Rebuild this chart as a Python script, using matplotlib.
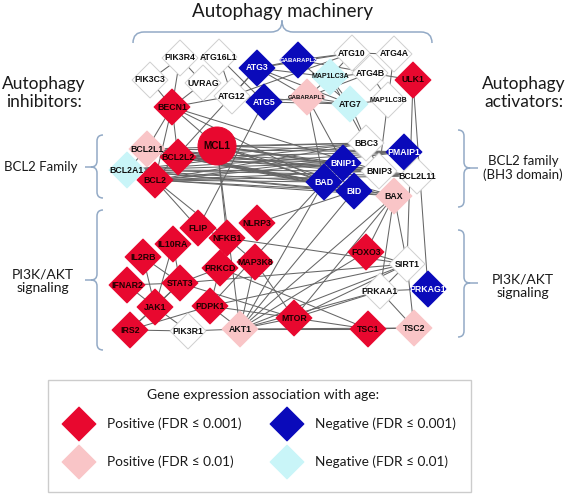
import matplotlib.pyplot as plt
from matplotlib.patches import Polygon, Circle, Rectangle, PathPatch
from matplotlib.collections import LineCollection
from matplotlib.font_manager import FontProperties
from matplotlib.textpath import TextPath
from matplotlib.path import Path
import numpy as np

W, H = 567, 494

# -------------------------------------------------
# Network data (layout in picture pixels)
# -------------------------------------------------
node_names = [
    "PIK3R4", "ATG16L1", "PIK3C3", "UVRAG", "ATG3", "GABARAPL2", "ATG10",
    "ATG4A", "MAP1LC3A", "ATG4B", "ULK1", "BECN1", "ATG12", "ATG5",
    "GABARAPL1", "ATG7", "MAP1LC3B",
    "BCL2A1", "BCL2L1", "BCL2L2", "BCL2", "MCL1",
    "BBC3", "PMAIP1", "BCL2L11", "BNIP3", "BNIP1", "BAX", "BAD", "BID",
    "FLIP", "NLRP3", "NFKB1", "IL10RA", "IL2RB", "MAP3K8", "PRKCD",
    "IFNAR2", "STAT3", "JAK1", "PDPK1", "IRS2", "PIK3R1", "AKT1", "MTOR",
    "FOXO3", "SIRT1", "PRKAA1", "PRKAG1", "TSC1", "TSC2",
]
node_x = [
    180, 219, 150, 203, 257, 298, 352,
    394, 330, 370, 413, 172, 232, 264,
    307, 350, 388,
    127, 147, 178, 155, 217,
    366, 404, 417, 379, 343, 394, 324, 354,
    198, 257, 227, 173, 143, 255, 220,
    127, 180, 155, 210, 130, 188, 240, 294,
    366, 407, 380, 428, 368, 414,
]
node_y = [
    58, 57, 80, 83, 68, 60, 53,
    54, 77, 73, 80, 107, 96, 102,
    97, 104, 100,
    170, 149, 157, 180, 146,
    143, 152, 176, 171, 163, 196, 182, 191,
    228, 223, 238, 244, 257, 262, 268,
    285, 283, 307, 306, 330, 331, 329, 318,
    252, 264, 291, 289, 329, 328,
]
# pos1: positive FDR<=0.001, pos2: positive FDR<=0.01,
# neg1: negative FDR<=0.001, neg2: negative FDR<=0.01, none: not associated
node_group = [
    "none", "none", "none", "none", "neg1", "neg1", "none",
    "none", "neg2", "none", "pos1", "pos1", "none", "neg1",
    "pos2", "neg2", "none",
    "neg2", "pos2", "pos1", "pos1", "pos1",
    "none", "neg1", "none", "none", "neg1", "pos2", "neg1", "neg1",
    "pos1", "pos1", "pos1", "pos1", "pos1", "pos1", "pos1",
    "pos1", "pos1", "pos1", "pos1", "pos1", "none", "pos2", "pos1",
    "pos1", "none", "none", "neg1", "pos1", "pos2",
]

bcl2_inhibitors = ["BCL2L1", "MCL1", "BCL2L2", "BCL2", "BCL2A1"]
bh3_activators = ["BBC3", "PMAIP1", "BNIP1", "BNIP3", "BCL2L11",
                  "BAD", "BID", "BAX"]

edges = [
    ("PIK3R4", "PIK3C3"), ("PIK3R4", "UVRAG"), ("PIK3R4", "BECN1"),
    ("PIK3C3", "BECN1"), ("UVRAG", "BECN1"), ("BECN1", "ATG12"),
    ("ATG16L1", "ATG12"), ("ATG16L1", "ATG5"), ("ATG12", "ATG5"),
    ("ATG12", "ATG3"), ("ATG12", "ATG7"), ("ATG12", "ATG10"),
    ("ATG3", "GABARAPL2"), ("ATG3", "MAP1LC3A"), ("ATG3", "ATG10"),
    ("ATG3", "ATG7"), ("ATG3", "GABARAPL1"), ("GABARAPL2", "ATG10"),
    ("GABARAPL2", "ATG7"), ("GABARAPL2", "ATG4B"), ("ATG10", "ATG4A"),
    ("ATG10", "MAP1LC3A"), ("ATG4B", "ULK1"), ("ATG4B", "MAP1LC3A"),
    ("ATG4B", "MAP1LC3B"), ("ATG4B", "GABARAPL1"), ("ATG4A", "MAP1LC3B"),
    ("ATG5", "GABARAPL1"), ("ATG5", "ATG7"), ("GABARAPL1", "ATG7"),
    ("MAP1LC3A", "ATG7"), ("ATG7", "MAP1LC3B"), ("MAP1LC3A", "GABARAPL1"),
    ("BECN1", "BCL2L1"), ("BECN1", "BCL2L2"), ("BECN1", "BCL2"),
    ("BECN1", "MCL1"), ("BECN1", "BNIP3"), ("BECN1", "BAD"),
    ("ATG5", "FLIP"), ("ATG3", "BCL2"), ("GABARAPL1", "BAD"),
    ("GABARAPL1", "BNIP1"), ("ATG7", "BNIP3"), ("MAP1LC3B", "BNIP3"),
    ("ULK1", "SIRT1"), ("ULK1", "PRKAG1"), ("MAP1LC3A", "BBC3"),
    ("BCL2", "FLIP"), ("MCL1", "NFKB1"), ("MCL1", "AKT1"),
    ("BCL2", "NFKB1"), ("BCL2A1", "BCL2L1"),
    ("IRS2", "PIK3R1"), ("PIK3R1", "AKT1"), ("IRS2", "JAK1"),
    ("IRS2", "STAT3"), ("IRS2", "PDPK1"), ("JAK1", "IFNAR2"),
    ("JAK1", "IL2RB"), ("JAK1", "STAT3"), ("JAK1", "IL10RA"),
    ("JAK1", "PIK3R1"), ("STAT3", "IL2RB"), ("STAT3", "IFNAR2"),
    ("STAT3", "IL10RA"), ("STAT3", "PRKCD"), ("STAT3", "MTOR"),
    ("STAT3", "SIRT1"), ("PDPK1", "AKT1"), ("PDPK1", "PRKCD"),
    ("PDPK1", "MTOR"), ("PDPK1", "SIRT1"), ("NFKB1", "MAP3K8"),
    ("NFKB1", "PRKCD"), ("NFKB1", "FLIP"), ("NFKB1", "SIRT1"),
    ("AKT1", "MTOR"), ("AKT1", "TSC2"), ("AKT1", "TSC1"),
    ("AKT1", "FOXO3"), ("AKT1", "SIRT1"), ("AKT1", "BAD"),
    ("AKT1", "BAX"), ("AKT1", "PRKAA1"), ("AKT1", "MAP3K8"),
    ("AKT1", "BID"), ("PRKCD", "TSC1"), ("MAP3K8", "MTOR"),
    ("MTOR", "TSC1"), ("MTOR", "SIRT1"), ("MTOR", "PRKAA1"),
    ("MTOR", "BAX"), ("TSC1", "TSC2"), ("TSC2", "PRKAA1"),
    ("TSC2", "SIRT1"), ("PRKAA1", "PRKAG1"), ("PRKAA1", "SIRT1"),
    ("FOXO3", "SIRT1"), ("FOXO3", "BAX"), ("SIRT1", "BAX"),
    ("PRKAA1", "BAX"), ("PDPK1", "BAD"), ("NLRP3", "BID"),
]
edges += [(a, b) for a in bcl2_inhibitors for b in bh3_activators]

legend_labels = ["Positive (FDR \u2264 0.001)", "Negative (FDR \u2264 0.001)",
                 "Positive (FDR \u2264 0.01)", "Negative (FDR \u2264 0.01)"]
legend_groups = ["pos1", "neg1", "pos2", "neg2"]

group_face = {"pos1": "#E8082F", "pos2": "#F9C5C7", "neg1": "#0A0ABA",
              "neg2": "#C9F5F8", "none": "#FFFFFF"}
group_edge = {"pos1": "#E8082F", "pos2": "#F9C5C7", "neg1": "#0A0ABA",
              "neg2": "#C9F5F8", "none": "#CFCFCF"}
group_text = {"pos1": "#200000", "pos2": "#111111", "neg1": "#FFFFFF",
              "neg2": "#111111", "none": "#111111"}

BRACE_COLOR = "#93AAC6"
TEXT_FONT = "Lato"
NODE_FONT = "Liberation Sans"
node_prop = FontProperties(family=NODE_FONT, weight="bold")


def label_size(name, max_px=37.0, max_pt=6.3):
    # shrink long gene names so they fit inside their diamond
    em = TextPath((0, 0), name, size=1, prop=node_prop).get_extents().width
    return min(max_pt, max_px / (em * 100 / 72))


def diamond(ax, x, y, r, face, edge, z):
    pts = [(x - r, y), (x, y - r), (x + r, y), (x, y + r)]
    ax.add_patch(Polygon(pts, closed=True, facecolor=face, edgecolor=edge,
                         linewidth=0.7, zorder=z))


def brace(ax, p0, p1, pm, n, c, tip):
    p0, p1, pm, n = map(np.asarray, (p0, p1, pm, n))
    t = (p1 - p0) / np.linalg.norm(p1 - p0)
    verts = [p0 - n * c, p0, p0 + t * c, pm - t * c, pm, pm + n * c,
             pm, pm + t * c, p1 - t * c, p1, p1 - n * c,
             pm + n * c, pm + n * (c + tip)]
    codes = [Path.MOVETO, Path.CURVE3, Path.CURVE3, Path.LINETO,
             Path.CURVE3, Path.CURVE3, Path.CURVE3, Path.CURVE3,
             Path.LINETO, Path.CURVE3, Path.CURVE3,
             Path.MOVETO, Path.LINETO]
    ax.add_patch(PathPatch(Path(verts, codes), facecolor="none",
                           edgecolor=BRACE_COLOR, linewidth=1.1, zorder=1))


fig = plt.figure(figsize=(W / 100, H / 100), dpi=100)
ax = fig.add_axes([0, 0, 1, 1])
ax.set_xlim(0, W)
ax.set_ylim(H, 0)
ax.axis("off")

pos = {n: (x, y) for n, x, y in zip(node_names, node_x, node_y)}

segs = [[pos[a], pos[b]] for a, b in edges]
ax.add_collection(LineCollection(segs, colors="#666666", linewidths=0.75,
                                 zorder=2))

for i, (name, x, y, g) in enumerate(zip(node_names, node_x, node_y,
                                        node_group)):
    z = 3 + i * 0.01
    if name == "MCL1":
        ax.add_patch(Circle((x, y), 19, facecolor=group_face[g],
                            edgecolor=group_edge[g], linewidth=0.7, zorder=z))
        size = 7.2
    else:
        diamond(ax, x, y, 18, group_face[g], group_edge[g], z)
        size = label_size(name)
    ax.text(x, y, name, ha="center", va="center", fontsize=size,
            fontweight="bold", family=NODE_FONT, color=group_text[g],
            zorder=z + 0.005)

# section labels
ax.text(282, 12, "Autophagy machinery", ha="center", va="center",
        fontsize=13.5, family=TEXT_FONT, color="#1a1a1a")
ax.text(44, 93, "Autophagy\ninhibitors:", ha="center", va="center",
        fontsize=12.5, family=TEXT_FONT, color="#1a1a1a", linespacing=1.15)
ax.text(524, 93, "Autophagy\nactivators:", ha="center", va="center",
        fontsize=12.5, family=TEXT_FONT, color="#1a1a1a", linespacing=1.15)
ax.text(41, 167, "BCL2 Family", ha="center", va="center", fontsize=9.5,
        family=TEXT_FONT, color="#1a1a1a")
ax.text(43, 281, "PI3K/AKT\nsignaling", ha="center", va="center",
        fontsize=10, family=TEXT_FONT, color="#1a1a1a", linespacing=1.2)
ax.text(523, 168, "BCL2 family\n(BH3 domain)", ha="center", va="center",
        fontsize=9.5, family=TEXT_FONT, color="#1a1a1a", linespacing=1.2)
ax.text(523, 286, "PI3K/AKT\nsignaling", ha="center", va="center",
        fontsize=10, family=TEXT_FONT, color="#1a1a1a", linespacing=1.2)

# braces
brace(ax, (133, 32), (432, 32), (282, 32), (0, -1), 11, 1)
brace(ax, (97, 135), (97, 198), (97, 167), (-1, 0), 6, 6)
brace(ax, (97, 210), (97, 350), (97, 280), (-1, 0), 6, 6)
brace(ax, (464, 130), (464, 207), (464, 168), (1, 0), 6, 8)
brace(ax, (464, 230), (464, 337), (464, 283), (1, 0), 6, 8)

# legend
ax.add_patch(Rectangle((48, 380), 423, 112, facecolor="white",
                       edgecolor="#CCCCCC", linewidth=1.0, zorder=1))
ax.text(263, 395, "Gene expression association with age:", ha="center",
        va="center", fontsize=10, family=TEXT_FONT, color="#1a1a1a")
legend_x = [79, 287, 79, 287]
legend_y = [424, 424, 462, 462]
for lab, g, lx, ly in zip(legend_labels, legend_groups, legend_x, legend_y):
    diamond(ax, lx, ly, 17, group_face[g], group_face[g], 2)
    ax.text(lx + 28, ly, lab, ha="left", va="center", fontsize=9.8,
            family=TEXT_FONT, color="#1a1a1a")

fig.savefig("out.png", dpi=100)
